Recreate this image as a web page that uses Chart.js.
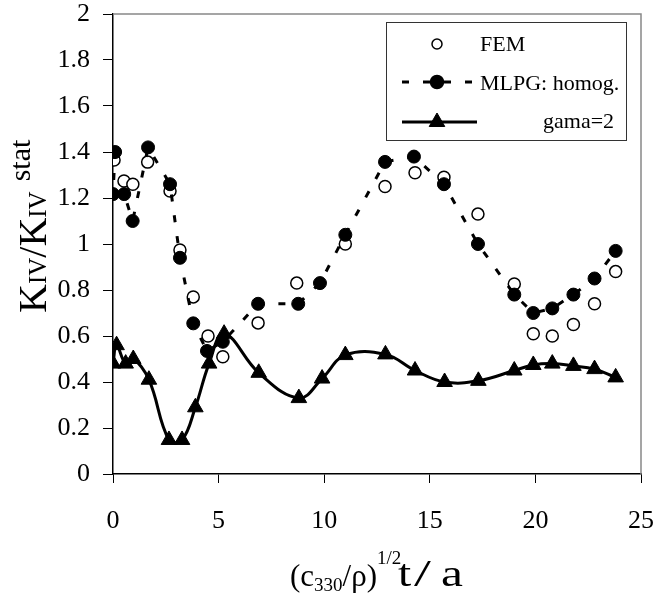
<!DOCTYPE html>
<html><head><meta charset="utf-8">
<script src="https://cdn.jsdelivr.net/npm/chart.js@4/dist/chart.umd.min.js"></script>
<style>html,body{margin:0;padding:0;background:#fff;}canvas{display:block;}</style>
</head><body>
<canvas id="c" width="656" height="598"></canvas>
<script>
// ---- data ----
const femX  = [0.05, 0.52, 0.94, 1.64, 2.7, 3.17, 3.8, 4.5, 5.2, 6.87, 8.7, 11.0, 12.88, 14.3, 15.67, 17.28, 19.0, 19.9, 20.8, 21.8, 22.8, 23.8];
const femY  = [1.365, 1.274, 1.26, 1.356, 1.23, 0.974, 0.77, 0.6, 0.51, 0.657, 0.83, 1.0, 1.25, 1.31, 1.29, 1.13, 0.826, 0.61, 0.60, 0.65, 0.74, 0.88];
const mlpgX = [0.1, 0.0, 0.53, 0.93, 1.66, 2.7, 3.17, 3.8, 4.45, 5.2, 6.87, 8.77, 9.8, 11.0, 12.88, 14.25, 15.67, 17.28, 19.0, 19.9, 20.8, 21.8, 22.8, 23.8];
const mlpgY = [1.40, 1.217, 1.217, 1.10, 1.42, 1.26, 0.94, 0.655, 0.535, 0.575, 0.74, 0.74, 0.83, 1.04, 1.357, 1.38, 1.26, 1.00, 0.78, 0.70, 0.72, 0.78, 0.85, 0.97];
const gamaX = [0.0, 0.17, 0.6, 0.96, 1.7, 2.65, 3.27, 3.9, 4.55, 5.26, 6.9, 8.8, 9.9, 11.0, 12.9, 14.3, 15.7, 17.3, 19.0, 19.9, 20.8, 21.8, 22.8, 23.8];
const gamaY = [0.48, 0.56, 0.48, 0.50, 0.41, 0.148, 0.148, 0.29, 0.48, 0.61, 0.44, 0.33, 0.415, 0.517, 0.52, 0.45, 0.40, 0.405, 0.45, 0.474, 0.48, 0.47, 0.456, 0.42];
const xTickLabels = ['0', '5', '10', '15', '20', '25'];
const yTickLabels = ['0', '0.2', '0.4', '0.6', '0.8', '1', '1.2', '1.4', '1.6', '1.8', '2'];
const seriesNames = ['FEM', 'MLPG: homog.', 'gama=2'];
const yTitleText = ['K', 'IV', '/K', 'IV', 'stat'];
const xTitleText = ['(c', '330', '/\u03C1)', '1/2', 't', '/', 'a'];

const pts = (xs, ys) => xs.map((x, i) => ({x: x, y: ys[i]}));
const FONT = '"Liberation Serif", "Times New Roman", serif';
Chart.defaults.font.family = FONT;
Chart.defaults.color = '#000';

const framePlugin = {
  id: 'frame',
  beforeDatasetsDraw(chart) {
    const {ctx, chartArea: a} = chart;
    ctx.save();
    ctx.strokeStyle = '#888';
    ctx.lineWidth = 1.5;
    ctx.beginPath();
    ctx.moveTo(a.left, a.top); ctx.lineTo(a.right, a.top); ctx.lineTo(a.right, a.bottom);
    ctx.stroke();
    ctx.restore();
  }
};

const titlesPlugin = {
  id: 'titles',
  afterDraw(chart) {
    const ctx = chart.ctx;
    ctx.save();
    ctx.fillStyle = '#000';
    ctx.textAlign = 'left';
    ctx.textBaseline = 'alphabetic';
    // y title (rotated)
    const ySizes = [40, 25, 40, 25, 30];
    const yDy = [0, 0, 0, 0, -16];
    const yGap = [0, 0, 0, 0, 10];
    ctx.save();
    ctx.translate(46, 313);
    ctx.rotate(-Math.PI / 2);
    let x = 0;
    yTitleText.forEach((t, i) => {
      ctx.font = ySizes[i] + 'px ' + FONT;
      x += yGap[i];
      ctx.fillText(t, x, yDy[i]);
      x += ctx.measureText(t).width;
    });
    ctx.restore();
    // x title
    const xSizes = [31, 19, 31, 19, 38, 38, 38];
    const xDy = [0, 5, 0, -22, 0, 0, 0];
    const xPos = [290, null, null, null, 398, 414, 441];
    const xStretch = [1, 1, 1, 1, 1.25, 1.6, 1.3];
    x = 290;
    xTitleText.forEach((t, i) => {
      ctx.font = xSizes[i] + 'px ' + FONT;
      if (xPos[i] !== null) x = xPos[i];
      ctx.save();
      ctx.translate(x, 586 + xDy[i]);
      ctx.scale(xStretch[i], 1);
      ctx.fillText(t, 0, 0);
      ctx.restore();
      x += ctx.measureText(t).width * xStretch[i];
    });
    // legend
    ctx.strokeStyle = '#333';
    ctx.lineWidth = 1;
    ctx.strokeRect(386.5, 22.5, 240, 118);
    ctx.font = '22px ' + FONT;
    ctx.fillText(seriesNames[0], 480, 51);
    ctx.fillText(seriesNames[1], 480, 90);
    ctx.fillText(seriesNames[2], 543, 128);
    // FEM marker
    ctx.lineWidth = 1.5;
    ctx.strokeStyle = '#000';
    ctx.fillStyle = '#fff';
    Chart.helpers.drawPoint(ctx, {pointStyle: 'circle', radius: 5, borderWidth: 1.5}, 437, 44);
    // MLPG marker
    ctx.save();
    ctx.lineWidth = 3;
    ctx.setLineDash([7, 14]);
    ctx.beginPath(); ctx.moveTo(402, 82); ctx.lineTo(476, 82); ctx.stroke();
    ctx.restore();
    ctx.fillStyle = '#000';
    Chart.helpers.drawPoint(ctx, {pointStyle: 'circle', radius: 6.5, borderWidth: 1}, 437, 82);
    // gama marker
    ctx.lineWidth = 3;
    ctx.beginPath(); ctx.moveTo(402, 122); ctx.lineTo(477, 122); ctx.stroke();
    ctx.lineWidth = 1;
    Chart.helpers.drawPoint(ctx, {pointStyle: 'triangle', radius: 9, borderWidth: 1}, 437, 122);
    ctx.restore();
  }
};

new Chart(document.getElementById('c'), {
  type: 'scatter',
  data: {
    datasets: [
      {
        label: seriesNames[1], data: pts(mlpgX, mlpgY), showLine: true, tension: 0,
        borderColor: '#000', borderWidth: 3, borderDash: [7, 14],
        pointStyle: 'circle', pointRadius: 6.5, pointBackgroundColor: '#000', pointBorderColor: '#000', pointBorderWidth: 1
      },
      {
        label: seriesNames[0], data: pts(femX, femY), showLine: false,
        pointStyle: 'circle', pointRadius: 6, pointBackgroundColor: '#fff', pointBorderColor: '#000', pointBorderWidth: 1.5
      },
      {
        label: seriesNames[2], data: pts(gamaX, gamaY), showLine: true, tension: 0.4,
        borderColor: '#000', borderWidth: 3,
        pointStyle: 'triangle', pointRadius: 9, pointBackgroundColor: '#000', pointBorderColor: '#000', pointBorderWidth: 1
      }
    ]
  },
  options: {
    responsive: false,
    animation: false,
    events: [],
    layout: {padding: {left: 0, top: 14, right: 15, bottom: 0}},
    plugins: {legend: {display: false}, tooltip: {enabled: false}},
    scales: {
      x: {
        type: 'linear', min: 0, max: 25,
        afterFit(s) { s.height = 124; s.paddingLeft = 0; s.paddingRight = 0; },
        ticks: {stepSize: 5, padding: 23, font: {size: 26}, color: '#000', maxRotation: 0,
          callback: (v) => xTickLabels[Math.round(v / 5)] },
        grid: {display: true, drawOnChartArea: false, drawTicks: true, tickLength: 9, color: '#000', lineWidth: 1},
        border: {display: true, color: '#000', width: 1.5}
      },
      y: {
        type: 'linear', min: 0, max: 2,
        afterFit(s) { s.width = 113; s.paddingTop = 0; s.paddingBottom = 0; },
        ticks: {stepSize: 0.2, padding: 13, font: {size: 26}, color: '#000',
          callback: (v) => yTickLabels[Math.round(v / 0.2)] },
        grid: {display: true, drawOnChartArea: false, drawTicks: true, tickLength: 10, color: '#000', lineWidth: 1},
        border: {display: true, color: '#000', width: 1.5}
      }
    }
  },
  plugins: [framePlugin, titlesPlugin]
});
</script>
</body></html>
